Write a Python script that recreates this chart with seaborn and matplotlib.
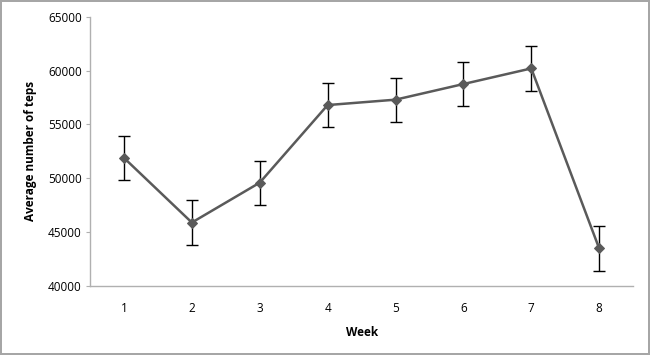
import numpy as np
import pandas as pd
import seaborn as sns
import matplotlib
matplotlib.use("Agg")
from matplotlib import pyplot as plt

weeks = [1, 2, 3, 4, 5, 6, 7, 8]
avg_steps = [51900, 45900, 49600, 56800, 57300, 58750, 60200, 43500]
err = [2050, 2050, 2050, 2050, 2050, 2050, 2050, 2050]
yticks = [40000, 45000, 50000, 55000, 60000, 65000]

df = pd.DataFrame({"Week": weeks, "Avg": avg_steps, "Err": err})

sns.set_style("white")
plt.rcParams['font.family'] = ['Open Sans', 'DejaVu Sans']
plt.rcParams['text.color'] = 'black'
plt.rcParams['axes.labelcolor'] = 'black'
plt.rcParams['xtick.color'] = 'black'
plt.rcParams['ytick.color'] = 'black'

fig = plt.figure(figsize=(6.5, 3.55), dpi=100, edgecolor="#a6a6a6", linewidth=1.5)
ax = fig.add_axes([0.1385, 0.194, 0.8355, 0.759])

ax.errorbar(df["Week"], df["Avg"], yerr=df["Err"], fmt="none", ecolor="black",
            elinewidth=1, capsize=4, capthick=1, zorder=2)
sns.lineplot(data=df, x="Week", y="Avg", ax=ax, color="#5a5a5a", linewidth=1.8,
             marker="D", markersize=5.5, markeredgecolor="#5a5a5a", zorder=3)

ax.set_xlim(0.5, 8.5)
ax.set_ylim(40000, 65000)
ax.set_yticks(yticks)
ax.set_xticks(weeks)
ax.set_xticklabels([str(w) for w in weeks])
for s in ["top", "right"]:
    ax.spines[s].set_visible(False)
for s in ["left", "bottom"]:
    ax.spines[s].set_color("#b0b0b0")
    ax.spines[s].set_linewidth(1)
ax.tick_params(axis="y", left=True, length=3, color="#b0b0b0", labelcolor="black",
               labelsize=8.5, pad=3)
ax.tick_params(axis="x", bottom=False, labelcolor="black", labelsize=8.5, pad=8)

ax.set_xlabel("Week", fontsize=8.5, fontweight="bold", labelpad=8)
ax.set_ylabel("Average number of teps", fontsize=8.5, fontweight="bold", labelpad=8)

fig.savefig("out.png", dpi=100)
